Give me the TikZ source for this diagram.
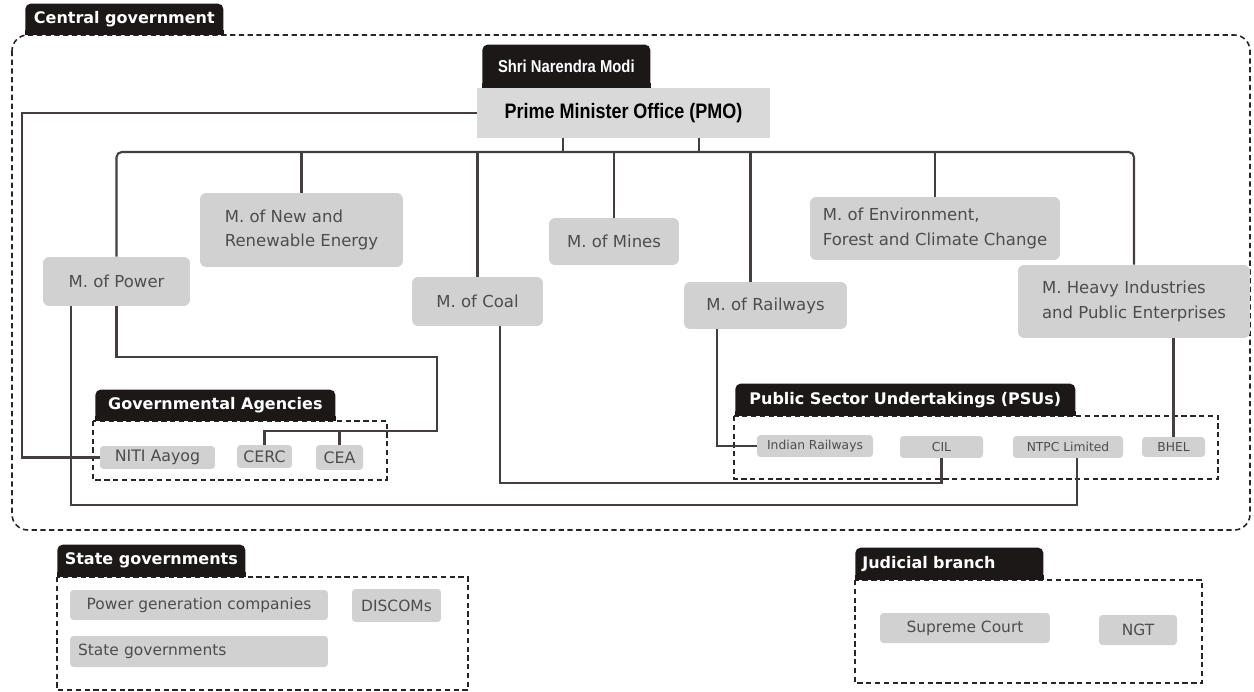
\documentclass[tikz,border=0pt]{standalone}
\usepackage{fontspec}
\setmainfont{DejaVu Sans}
\newfontfamily\narrowfont[FakeStretch=0.86]{Liberation Sans}
\usetikzlibrary{positioning}
\definecolor{tabblack}{HTML}{1C1818}
\definecolor{boxgray}{HTML}{D1D1D1}
\definecolor{pmogray}{HTML}{D9D9D9}
\definecolor{boxtext}{HTML}{4D4D4D}
\definecolor{linkgray}{HTML}{453E3E}
\tikzset{
  tab/.style={fill=tabblack, text=white, rounded corners=3pt, inner sep=0pt, anchor=south west, font=\fontsize{9.1}{11}\selectfont\bfseries},
  office/.style={fill=pmogray, text=black, inner sep=0pt, font=\narrowfont\bfseries\fontsize{11.9}{14}\selectfont},
  ministry/.style={fill=boxgray, text=boxtext, rounded corners=3.5pt, inner sep=0pt, align=left, font=\fontsize{9.4}{14}\selectfont},
  unit/.style={fill=boxgray, text=boxtext, rounded corners=2pt, inner sep=0pt, font=\fontsize{8.8}{11}\selectfont},
  psu/.style={unit, font=\fontsize{7}{9}\selectfont},
  link/.style={draw=linkgray, line width=1.2pt},
  dashbox/.style={draw=black!85, line width=0.9pt, dash pattern=on 3pt off 2pt},
}
\begin{document}
\begin{tikzpicture}[x=0.02cm, y=-0.02cm]
\useasboundingbox (0,0) rectangle (1254,692);

% groups
\draw[dashbox, rounded corners=9pt] (12,35) rectangle (1250,530);
\draw[dashbox] (93,421) rectangle (387,480);
\draw[dashbox] (734,416) rectangle (1218,479);
\draw[dashbox] (57,577) rectangle (468,690);
\draw[dashbox] (855,580) rectangle (1202,683);

% tabs
\node[tab, minimum width=39.6mm, minimum height=6.2mm] (cgtab) at (25,35) {Central government};
\node[tab, minimum width=48mm, minimum height=6.2mm] (agtab) at (95,421) {Governmental Agencies};
\node[tab, minimum width=68mm, minimum height=6.4mm] (psutab) at (735,416) {Public Sector Undertakings (PSUs)};
\node[tab, minimum width=37.6mm, minimum height=6.4mm] (sgtab) at (57,577) {State governments};
\node[tab, minimum width=37.6mm, minimum height=6.4mm, inner xsep=1.4mm, text width=34.8mm, align=left] (jbtab) at (855,580) {Judicial branch};
\node[tab, minimum width=33.6mm, minimum height=8.6mm, font=\narrowfont\bfseries\fontsize{9.8}{12}\selectfont] (moditab) at (482,88) {Shri Narendra Modi};
\foreach \t in {cgtab, agtab, psutab, sgtab, jbtab, moditab}
  \fill[tabblack] (\t.south west) rectangle ([yshift=3pt]\t.south east);

% PMO and ministries
\node[office, minimum width=58.6mm, minimum height=10mm] (pmo) at (623.5,113) {Prime Minister Office (PMO)};
\node[ministry, minimum width=29.4mm, minimum height=9.8mm] (power) at (116.5,281.5) {M. of Power};
\node[ministry, minimum width=40.6mm, minimum height=14.8mm] (mnre) at (301.5,230) {M. of New and\\Renewable Energy};
\node[ministry, minimum width=26.2mm, minimum height=9.8mm] (coal) at (477.5,301.5) {M. of Coal};
\node[ministry, minimum width=26mm, minimum height=9.4mm] (mines) at (614,241.5) {M. of Mines};
\node[ministry, minimum width=32.6mm, minimum height=9.4mm] (railways) at (765.5,305.5) {M. of Railways};
\node[ministry, minimum width=50mm, minimum height=12.6mm] (environment) at (935,228.5) {M. of Environment,\\Forest and Climate Change};
\node[ministry, minimum width=46.4mm, minimum height=14.6mm] (heavy) at (1134,301.5) {M. Heavy Industries\\and Public Enterprises};

% agencies
\node[unit, font=\fontsize{9}{11}\selectfont, minimum width=23mm, minimum height=4.6mm] (niti) at (157.5,457.5) {NITI Aayog};
\node[unit, font=\fontsize{9}{11}\selectfont, minimum width=11mm, minimum height=4.6mm] (cerc) at (264.5,456.5) {CERC};
\node[unit, font=\fontsize{9}{11}\selectfont, minimum width=9.4mm, minimum height=5mm] (cea) at (339.5,457.5) {CEA};

% PSUs
\node[psu, minimum width=23.2mm, minimum height=4.4mm] (indianrail) at (815,446) {Indian Railways};
\node[psu, minimum width=16.6mm, minimum height=4.4mm] (cil) at (941.5,447) {CIL};
\node[psu, minimum width=22mm, minimum height=4.4mm] (ntpc) at (1068,447) {NTPC Limited};
\node[psu, minimum width=12.6mm, minimum height=4mm] (bhel) at (1173.5,447) {BHEL};

% state and judicial
\node[unit, minimum width=51.6mm, minimum height=6mm] (gencos) at (199,605) {Power generation companies};
\node[unit, minimum width=17.8mm, minimum height=6.6mm] (discoms) at (396.5,605.5) {DISCOMs};
\node[unit, minimum width=51.6mm, minimum height=6.2mm, inner xsep=1.6mm, text width=48.4mm, align=left] (stategov) at (199,651.5) {State governments};
\node[unit, minimum width=34mm, minimum height=6mm] (supreme) at (965,628) {Supreme Court};
\node[unit, minimum width=15.6mm, minimum height=6mm] (ngt) at (1138,630) {NGT};

% connectors
\coordinate (bus) at (0,152);
\coordinate (leftrail) at (22,0);
\coordinate (agjoin) at (437,431);
\coordinate (coalrow) at (0,483);
\coordinate (powerrow) at (0,505);
\draw[link] ([xshift=-12.1mm]pmo.south) -- ++(0,14);
\draw[link] ([xshift=15.1mm]pmo.south) -- ++(0,14);
\draw[link, rounded corners=3pt] (power.north) |- (bus -| heavy.north) -- (heavy.north);
\foreach \m in {mnre, coal, mines, environment}
  \draw[link] (\m.north) -- (\m.north |- bus);
\draw[link] ([xshift=-3mm]railways.north) -- ([xshift=-3mm]railways.north |- bus);
\draw[link] (pmo.west) -- (pmo.west -| leftrail) |- (niti.west);
\draw[link] (power.south) -- ++(0,51) -| (agjoin) -| (cerc.north);
\draw[link] (cea.north) -- (cea.north |- agjoin);
\draw[link] ([xshift=-9.1mm]power.south) |- ([xshift=1.8mm]ntpc.south |- powerrow) -- ([xshift=1.8mm]ntpc.south);
\draw[link] ([xshift=4.5mm]coal.south) |- (cil.south |- coalrow) -- (cil.south);
\draw[link] ([xshift=-9.7mm]railways.south) |- (indianrail.west);
\draw[link] (bhel.north |- heavy.south) -- (bhel.north);
\end{tikzpicture}
\end{document}
